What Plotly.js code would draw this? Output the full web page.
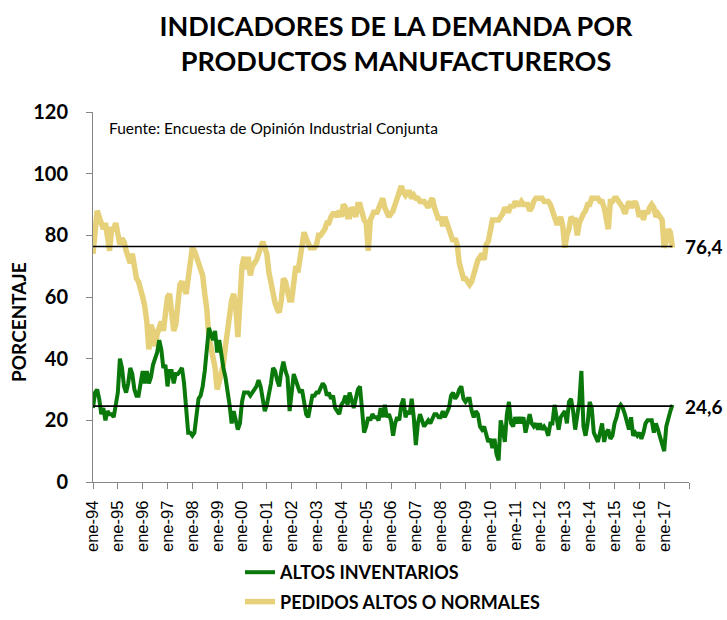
<!DOCTYPE html>
<html>
<head>
<meta charset="utf-8">
<script src="https://cdn.plot.ly/plotly-3.0.1.min.js"></script>
<style>html,body{margin:0;padding:0;background:#fff;}#chart{width:727px;height:620px;}</style>
</head>
<body>
<div id="chart"></div>
<script>
// Etiquetas del eje X (una por año, enero)
const tickLabels = ["ene-94","ene-95","ene-96","ene-97","ene-98","ene-99","ene-00","ene-01","ene-02","ene-03","ene-04","ene-05","ene-06","ene-07","ene-08","ene-09","ene-10","ene-11","ene-12","ene-13","ene-14","ene-15","ene-16","ene-17"];

// PEDIDOS ALTOS O NORMALES (%), mensual desde ene-94
const pedidos = [
 74,81,88,86,84,82,84,80,75,82,82,84,
 81,77,79,78,75,72,71,74,69,66,65,63,
 60,57,52,43,51,49,44,48,50,52,49,54,
 60,61,55,49,51,57,64,65,62,61,66,72,
 76,75,73,71,70,67,61,56,47,43,40,37,
 30,33,35,38,44,50,55,59,61,57,47,63,
 70,73,69,73,67,70,71,72,74,76,78,76,
 74,68,64,62,58,56,55,59,66,65,61,59,
 59,67,70,68,72,76,81,79,77,76,76,76,
 77,80,80,81,82,84,84,86,87,87,86,88,
 86,90,89,86,86,89,88,86,90,90,87,85,
 84,75,85,87,88,87,89,90,92,89,87,86,
 87,88,90,92,95,96,94,93,94,94,92,93,
 92,92,91,91,91,90,89,91,92,89,87,85,
 86,83,86,83,82,80,78,79,77,71,68,66,
 66,65,64,65,68,69,72,73,74,72,77,78,
 81,85,85,85,85,86,87,89,88,88,90,89,
 91,90,90,91,90,90,90,88,89,91,92,92,
 92,92,91,91,91,90,88,86,84,84,86,83,
 76,80,82,86,85,85,80,84,86,87,88,90,
 90,92,92,92,92,91,91,89,86,82,91,91,
 92,92,91,90,89,87,90,91,89,90,91,89,
 86,88,85,88,87,89,90,89,86,87,86,85,
 76,78,82,81,76
];

// ALTOS INVENTARIOS (%), mensual desde ene-94
const inventarios = [
 24,29,30,27,22,24,20,23,22,22,21,25,
 29,40,37,31,29,32,37,35,30,28,28,32,
 36,32,36,32,34,38,40,42,46,43,37,38,
 31,36,36,32,35,35,36,37,32,22,16,16,
 15,16,23,27,28,31,36,42,50,48,46,49,
 42,46,41,37,34,30,25,19,23,20,17,19,
 26,29,29,29,28,29,30,31,33,31,27,23,
 25,28,32,37,36,33,31,36,39,36,34,23,
 30,35,33,31,29,30,26,22,21,25,28,28,
 29,29,31,32,31,28,29,27,28,24,23,22,
 25,26,28,25,29,27,24,27,30,31,24,16,
 18,21,20,22,21,21,20,24,21,25,21,22,
 20,15,19,21,20,25,27,21,23,22,27,21,
 12,19,22,20,18,19,20,19,21,22,22,21,
 21,23,21,23,24,28,29,27,28,30,31,27,
 26,27,27,23,21,23,22,18,17,18,15,13,
 14,11,14,9,7,20,17,13,22,26,19,18,
 21,19,21,19,21,16,19,22,19,18,19,17,
 19,17,18,17,15,19,19,25,21,17,21,22,
 23,19,26,27,23,17,22,26,36,18,15,19,
 26,24,16,14,13,16,19,13,16,17,14,15,
 19,21,24,25,24,22,19,17,21,15,16,15,
 16,14,16,19,20,20,20,16,19,17,15,13,
 10,18,21,23,25
];

// Promedios del periodo (líneas de referencia)
const promedioPedidos = 76.4;
const promedioInventarios = 24.6;
const promedioPedidosLabel = "76,4";
const promedioInventariosLabel = "24,6";

const seriesNames = ["PEDIDOS ALTOS O NORMALES", "ALTOS INVENTARIOS"];

const months = pedidos.map((_, i) => i);
const lastMonth = months[months.length - 1];
const tickVals = tickLabels.map((_, i) => i * 12);
tickVals.push(tickLabels.length * 12);
const tickText = tickLabels.concat([""]);

const F = "Lato, 'Open Sans', sans-serif";

const traces = [
  {x: months, y: pedidos, type: "scatter", mode: "lines", name: seriesNames[0],
   legendgroup: "b", legendrank: 2, line: {color: "#E6D17A", width: 5.5}},
  {x: months, y: inventarios, type: "scatter", mode: "lines", name: seriesNames[1],
   legendgroup: "a", legendrank: 1, line: {color: "#0A780A", width: 4}},
  {x: [0, lastMonth], y: [promedioPedidos, promedioPedidos], type: "scatter", mode: "lines",
   showlegend: false, line: {color: "#000", width: 1.6}},
  {x: [0, lastMonth], y: [promedioInventarios, promedioInventarios], type: "scatter", mode: "lines",
   showlegend: false, line: {color: "#000", width: 1.6}}
];

const layout = {
  width: 727, height: 620,
  margin: {l: 93, r: 38, t: 112, b: 138, autoexpand: false},
  paper_bgcolor: "#fff", plot_bgcolor: "#fff",
  title: {text: "INDICADORES DE LA DEMANDA POR<br>PRODUCTOS MANUFACTUREROS",
    font: {family: F, size: 27, color: "#000", weight: 700},
    xref: "container", yref: "container", x: 396/727, xanchor: "center",
    y: 1 - 36/620, yanchor: "top"},
  showlegend: true,
  legend: {xref: "container", yref: "container", x: 240/727, y: 0,
    xanchor: "left", yanchor: "bottom", traceorder: "grouped", tracegroupgap: 3,
    font: {family: F, size: 18, color: "#000", weight: 700}, bgcolor: "rgba(0,0,0,0)"},
  xaxis: {range: [0, 288], tickmode: "array", tickvals: tickVals, ticktext: tickText,
    tickangle: -90, ticks: "outside", ticklen: 6, tickcolor: "#868686",
    showline: true, linecolor: "#868686", linewidth: 1, showgrid: false, zeroline: false,
    tickfont: {family: "'Liberation Sans', Arial, sans-serif", size: 16.5, color: "#000"},
    ticklabelstandoff: 5, fixedrange: true},
  yaxis: {range: [0, 120], dtick: 20, tick0: 0, ticks: "outside", ticklen: 6, tickcolor: "#868686",
    showline: true, linecolor: "#868686", linewidth: 1, showgrid: false, zeroline: false,
    tickfont: {family: F, size: 20, color: "#000", weight: 700}, ticklabelstandoff: 14,
    fixedrange: true},
  annotations: [
    {text: "Fuente: Encuesta de Opinión Industrial Conjunta", xref: "paper", yref: "paper",
     x: (107-93)/596, y: (482-128)/370, xanchor: "left", yanchor: "middle", showarrow: false,
     font: {family: F, size: 15.5, color: "#000"}},
    {text: "PORCENTAJE", xref: "paper", yref: "paper", x: (18-93)/596, y: (482-322)/370,
     textangle: -90, xanchor: "center", yanchor: "middle", showarrow: false,
     font: {family: F, size: 19, color: "#000", weight: 700}},
    {text: promedioPedidosLabel, xref: "paper", yref: "y", x: (683-93)/596, y: promedioPedidos,
     xanchor: "left", yanchor: "middle", showarrow: false,
     font: {family: "Lato", size: 19, color: "#000", weight: 700}},
    {text: promedioInventariosLabel, xref: "paper", yref: "y", x: (683-93)/596, y: promedioInventarios,
     xanchor: "left", yanchor: "middle", showarrow: false,
     font: {family: "Lato", size: 19, color: "#000", weight: 700}}
  ]
};

Plotly.newPlot("chart", traces, layout, {displayModeBar: false, staticPlot: true});
</script>
</body>
</html>
